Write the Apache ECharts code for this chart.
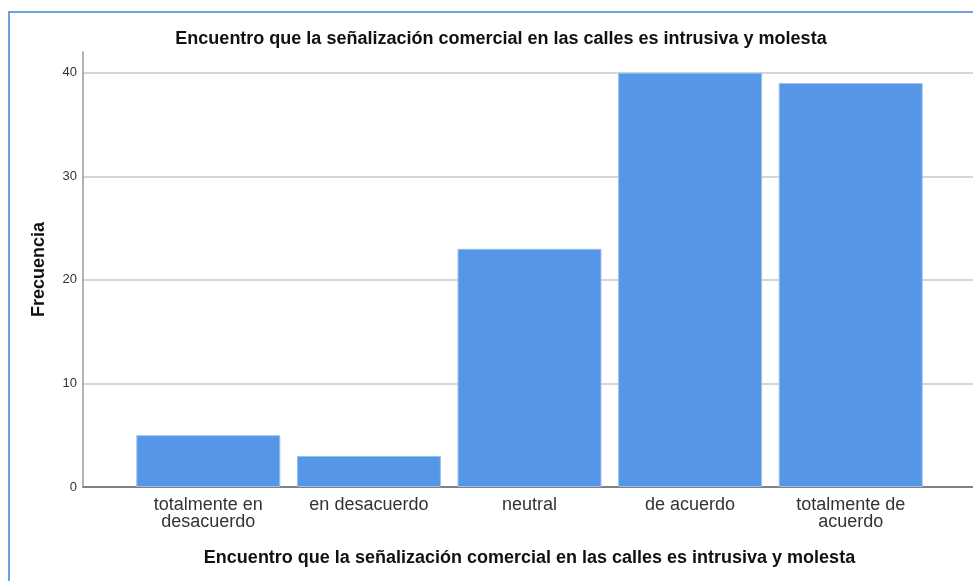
<!DOCTYPE html>
<html>
<head>
<meta charset="utf-8">
<script src="https://cdn.jsdelivr.net/npm/echarts@6/dist/echarts.min.js"></script>
<style>
  html, body { margin: 0; padding: 0; background: #fff; }
  #chart { width: 973px; height: 581px; }
</style>
</head>
<body>
<div id="chart"></div>
<script>
const categories = ['totalmente en\ndesacuerdo', 'en desacuerdo', 'neutral', 'de acuerdo', 'totalmente de\nacuerdo']
const frecuencia = [5, 3, 23, 40, 39]
const yTicks = { min: 0, max: 42, interval: 10 }

const chartTitle = 'Encuentro que la señalización comercial en las calles es intrusiva y molesta'
const font = 'Arial, "Liberation Sans", sans-serif'

const chart = echarts.init(document.getElementById('chart'))

const option = {
  animation: false,
  title: {
    text: chartTitle,
    left: 496,
    top: 25,
    textAlign: 'center',
    textStyle: { fontFamily: font, fontSize: 18, fontWeight: 'bold', color: '#111' }
  },
  graphic: [
    {
      type: 'rect',
      shape: { x: 9, y: 12, width: 990, height: 600 },
      style: { fill: 'none', stroke: '#6fa3dc', lineWidth: 2 },
      silent: true
    }
  ],
  grid: [
    { left: 83, right: 0, top: 52, bottom: 94 },
    { left: 128, right: 42, top: 52, bottom: 94 }
  ],
  xAxis: [
    {
      gridIndex: 0,
      type: 'value',
      min: 0,
      max: 1,
      axisLine: { show: true, lineStyle: { color: '#666', width: 1.5 } },
      axisTick: { show: false },
      axisLabel: { show: false },
      splitLine: { show: false }
    },
    {
      gridIndex: 1,
      type: 'category',
      data: categories,
      axisLine: { show: false },
      axisTick: { show: false },
      axisLabel: {
        interval: 0,
        margin: 10,
        fontFamily: font,
        fontSize: 18,
        lineHeight: 17,
        color: '#333'
      },
      name: chartTitle,
      nameLocation: 'middle',
      nameGap: 62,
      nameTextStyle: { fontFamily: font, fontSize: 18, fontWeight: 'bold', color: '#111' }
    }
  ],
  yAxis: [
    {
      gridIndex: 0,
      type: 'value',
      min: yTicks.min,
      max: yTicks.max,
      interval: yTicks.interval,
      axisLine: { show: true, lineStyle: { color: '#999', width: 1.5 } },
      axisTick: { show: false },
      axisLabel: { fontFamily: font, fontSize: 13, color: '#333', margin: 6, showMaxLabel: false },
      splitLine: { show: true, showMaxLine: false, lineStyle: { color: '#c8c8c8', width: 1.5 } },
      name: 'Frecuencia',
      nameLocation: 'middle',
      nameRotate: 90,
      nameGap: 35,
      nameTextStyle: { fontFamily: font, fontSize: 18, fontWeight: 'bold', color: '#111' }
    },
    {
      gridIndex: 1,
      type: 'value',
      min: yTicks.min,
      max: yTicks.max,
      show: false,
      splitLine: { show: false }
    }
  ],
  series: [
    {
      type: 'bar',
      xAxisIndex: 1,
      yAxisIndex: 1,
      data: frecuencia,
      barWidth: 144,
      itemStyle: { color: '#5596e6', borderColor: '#9cc1ef', borderWidth: 1 }
    }
  ]
}

chart.setOption(option)
</script>
</body>
</html>
